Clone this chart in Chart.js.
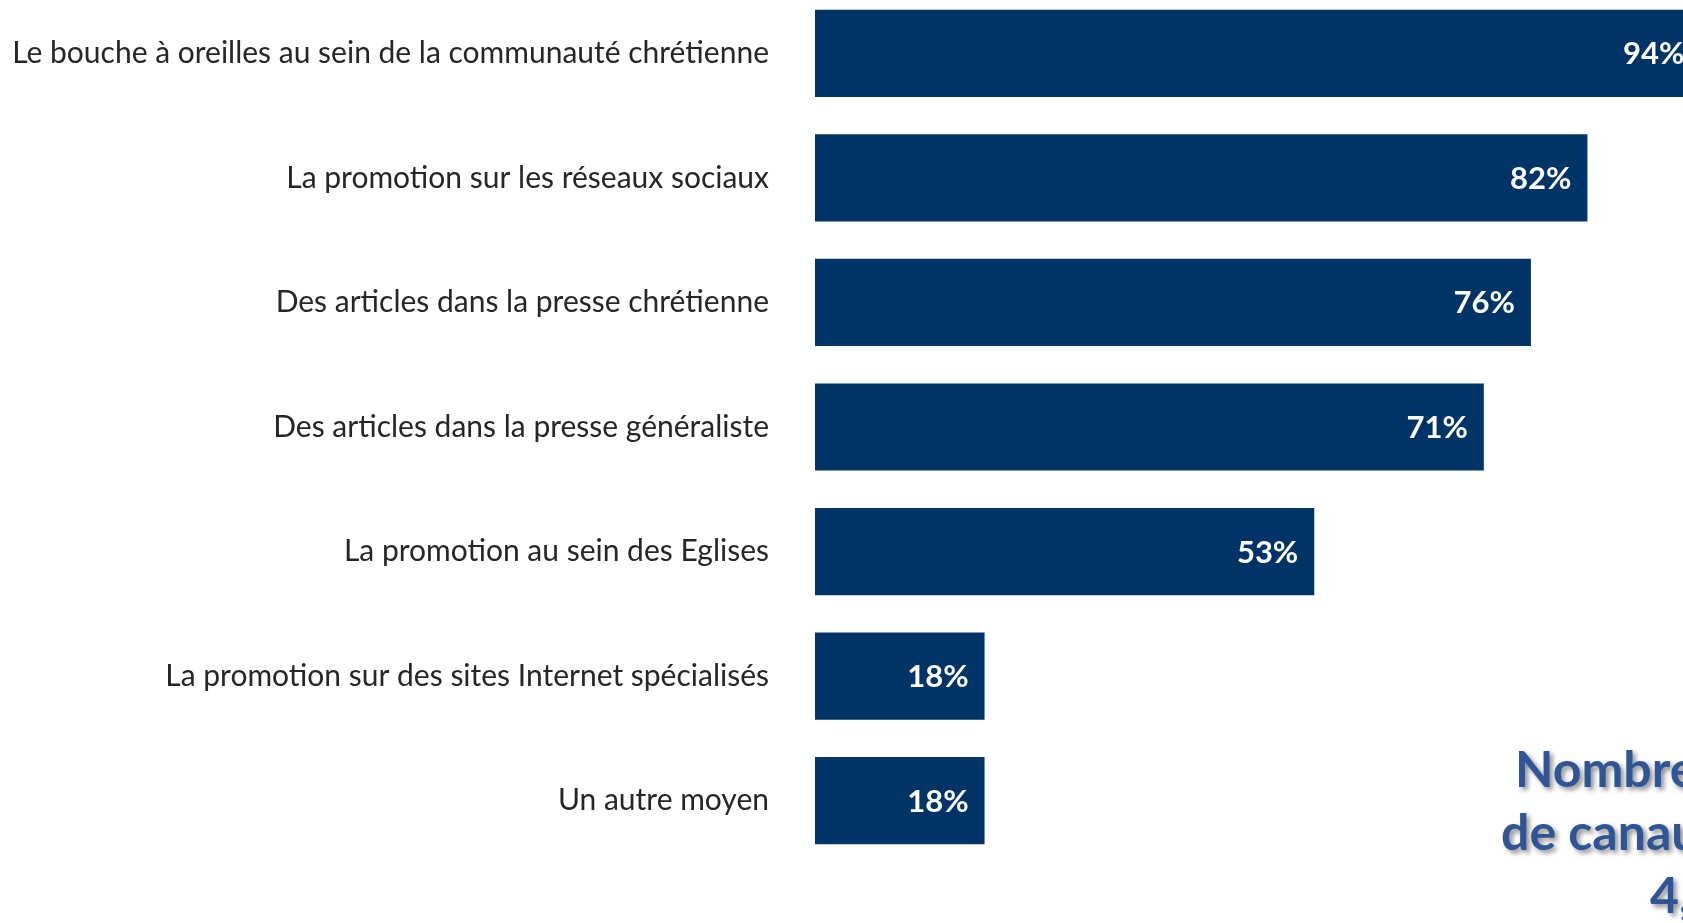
<!DOCTYPE html>
<html>
<head>
<meta charset="utf-8">
<script src="https://cdn.jsdelivr.net/npm/chart.js@4"></script>
<style>
  html, body { margin: 0; padding: 0; background: #fff; overflow: hidden; width: 1683px; height: 923px; }
  #chart { position: absolute; left: 0; top: -9px; }
</style>
</head>
<body>
<canvas id="chart" width="1757" height="940"></canvas>
<script>
// canaux de promotion (%)
const categories = [
  'Le bouche à oreilles au sein de la communauté chrétienne',
  'La promotion sur les réseaux sociaux',
  'Des articles dans la presse chrétienne',
  'Des articles dans la presse généraliste',
  'La promotion au sein des Eglises',
  'La promotion sur des sites Internet spécialisés',
  'Un autre moyen'
];
const values = [94, 82, 76, 71, 53, 18, 18];
const noteLines = ['Nombre moyen', 'de canaux cités', '4,3'];

const barColor = '#003366';

// étiquettes blanches dans les barres
const valueLabels = {
  id: 'valueLabels',
  afterDatasetsDraw(chart) {
    const ctx = chart.ctx;
    const meta = chart.getDatasetMeta(0);
    ctx.save();
    ctx.font = 'bold 31px Lato';
    ctx.fillStyle = '#ffffff';
    ctx.textAlign = 'right';
    ctx.textBaseline = 'middle';
    meta.data.forEach((bar, i) => {
      ctx.fillText(values[i] + '%', bar.x - 16, bar.y + 1);
    });
    ctx.restore();
  }
};

// encadré "Nombre moyen de canaux" en bas à droite
const noteBox = {
  id: 'noteBox',
  afterDraw(chart) {
    const ctx = chart.ctx;
    ctx.save();
    ctx.font = 'bold 50px Lato';
    ctx.fillStyle = '#2F5597';
    ctx.textAlign = 'left';
    ctx.textBaseline = 'alphabetic';
    ctx.shadowColor = 'rgba(0,0,0,0.45)';
    ctx.shadowBlur = 5;
    ctx.shadowOffsetX = 3;
    ctx.shadowOffsetY = 3;
    const xs = [1515, 1501, 1650];
    noteLines.forEach((t, i) => {
      ctx.fillText(t, xs[i], 796 + i * 63);
    });
    ctx.restore();
  }
};

new Chart(document.getElementById('chart'), {
  type: 'bar',
  data: {
    labels: categories,
    datasets: [{
      data: values,
      backgroundColor: barColor,
      borderWidth: 0,
      categoryPercentage: 1.0,
      barPercentage: 0.7
    }]
  },
  options: {
    indexAxis: 'y',
    responsive: false,
    animation: false,
    layout: { padding: { top: 0, bottom: 68, left: 0, right: 0 } },
    plugins: {
      legend: { display: false },
      tooltip: { enabled: false }
    },
    scales: {
      x: {
        display: false,
        min: 0,
        max: 100
      },
      y: {
        grid: { display: false, drawTicks: false },
        border: { display: false },
        ticks: {
          color: '#262626',
          font: { family: 'Lato', size: 30 },
          padding: 46
        },
        afterFit(scale) {
          scale.width = 815;
          scale.paddingTop = 0;
          scale.paddingBottom = 0;
        }
      }
    }
  },
  plugins: [valueLabels, noteBox]
});
</script>
</body>
</html>
